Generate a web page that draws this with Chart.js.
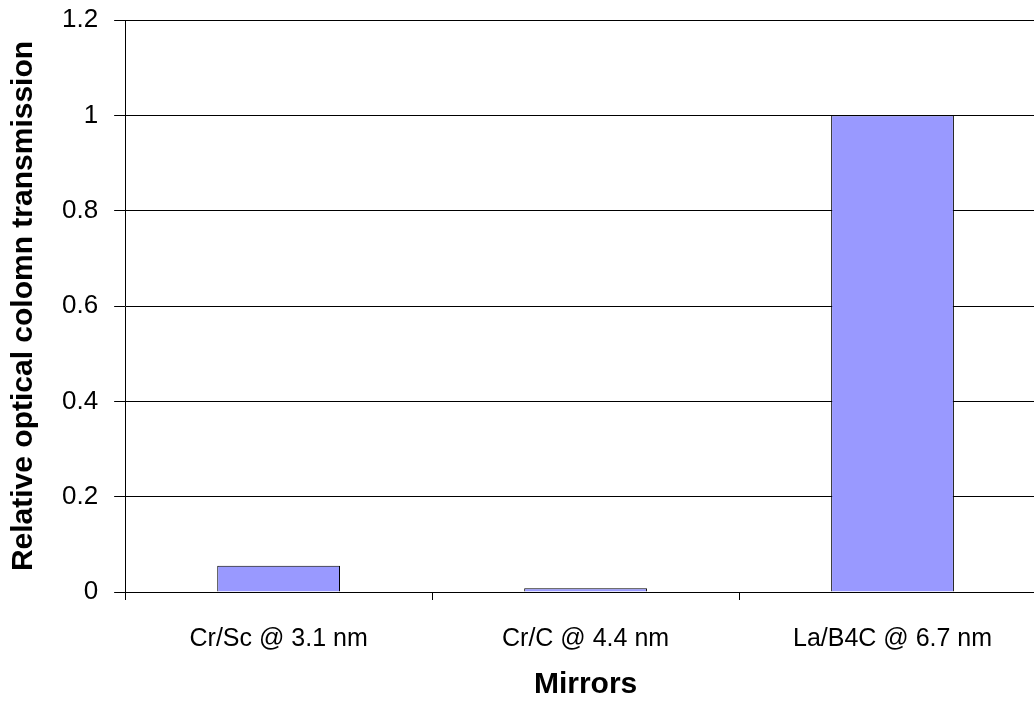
<!DOCTYPE html>
<html>
<head>
<meta charset="utf-8">
<script src="https://cdn.jsdelivr.net/npm/chart.js@4"></script>
<style>
  html, body { margin: 0; padding: 0; background: #fff; overflow: hidden; }
  #wrap { width: 1046px; height: 703px; }
</style>
</head>
<body>
<div id="wrap"><canvas id="myChart"></canvas></div>
<script>
const mirrors = ['Cr/Sc @ 3.1 nm', 'Cr/C @ 4.4 nm', 'La/B4C @ 6.7 nm'];
const transmission = [0.055, 0.008, 1.0];
const yTicks = [0, 0.2, 0.4, 0.6, 0.8, 1, 1.2];

Chart.defaults.font.family = '"Liberation Sans", Arial, sans-serif';
Chart.defaults.color = '#000';

var ctx = document.getElementById('myChart').getContext('2d');
var myChart = new Chart(ctx, {
    type: 'bar',
    data: {
        labels: mirrors,
        datasets: [{
            label: 'Transmission',
            data: transmission,
            backgroundColor: '#9999ff',
            borderColor: '#000',
            borderWidth: 1,
            categoryPercentage: 1,
            barPercentage: 0.4
        }]
    },
    options: {
        responsive: true,
        maintainAspectRatio: false,
        animation: false,
        layout: { padding: { top: 20, right: 0, bottom: 0, left: 6 } },
        plugins: {
            legend: { display: false },
            tooltip: { enabled: false }
        },
        scales: {
            x: {
                grid: {
                    offset: true,
                    drawOnChartArea: false,
                    color: '#000',
                    tickLength: 8
                },
                border: { color: '#000', width: 1 },
                ticks: { font: { size: 25 }, padding: 24, maxRotation: 0 },
                title: {
                    display: true,
                    text: 'Mirrors',
                    font: { size: 30, weight: 'bold' },
                    padding: { top: -11, bottom: 0 }
                }
            },
            y: {
                min: 0,
                max: 1.2,
                afterBuildTicks: (axis) => { axis.ticks = yTicks.map(v => ({ value: v })); },
                afterFit: (axis) => { axis.paddingTop = 0; axis.paddingBottom = 0; },
                grid: { color: '#000', tickLength: 11 },
                border: { color: '#000', width: 1 },
                ticks: { font: { size: 26 }, padding: 16, callback: (v) => String(v) },
                title: {
                    display: true,
                    text: 'Relative optical colomn transmission',
                    font: { size: 30, weight: 'bold' },
                    padding: { top: 0, bottom: 4 }
                }
            }
        }
    }
});
</script>
</body>
</html>
